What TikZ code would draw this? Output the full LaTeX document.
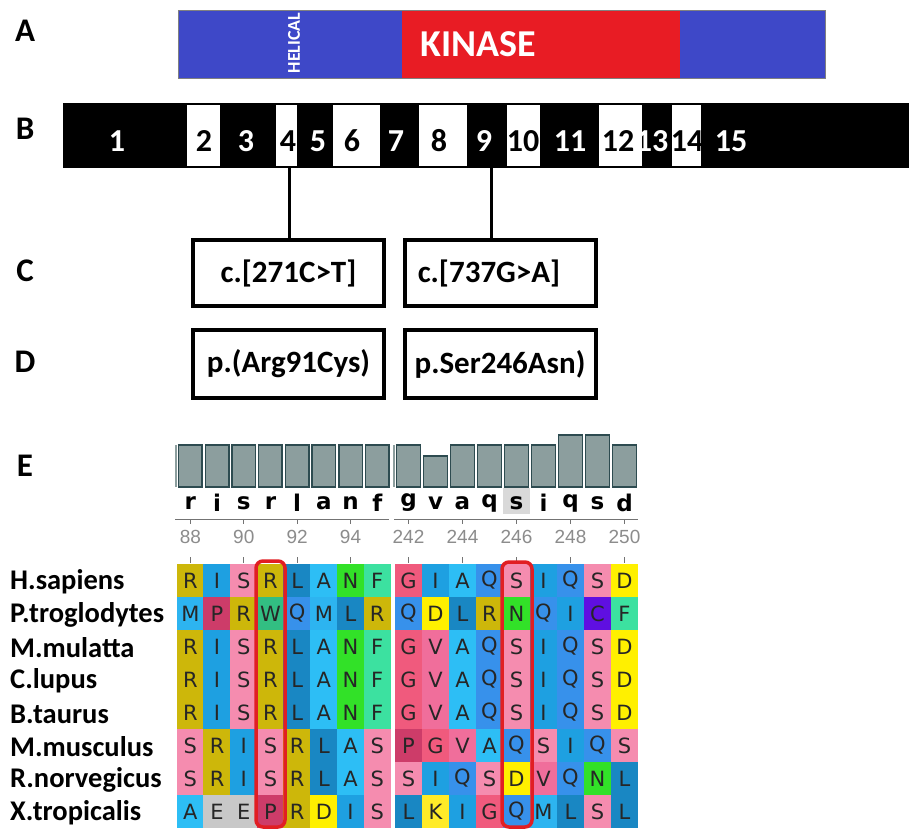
\documentclass[tikz,border=0pt]{standalone}
\usepackage{fontspec}
\setmainfont{Carlito}
\newfontfamily\alnfont{DejaVu Sans}
\newfontfamily\ticfont{Liberation Sans}
\definecolor{domblue}{RGB}{62,72,200}
\definecolor{domred}{RGB}{232,28,36}
\definecolor{aaR}{RGB}{205,183,10}
\definecolor{aaI}{RGB}{30,160,225}
\definecolor{aaS}{RGB}{245,140,175}
\definecolor{aaL}{RGB}{25,135,195}
\definecolor{aaA}{RGB}{45,190,245}
\definecolor{aaN}{RGB}{50,225,40}
\definecolor{aaF}{RGB}{60,225,160}
\definecolor{aaM}{RGB}{45,180,240}
\definecolor{aaP}{RGB}{205,60,105}
\definecolor{aaW}{RGB}{50,190,130}
\definecolor{aaQ}{RGB}{55,145,235}
\definecolor{aaG}{RGB}{240,90,125}
\definecolor{aaD}{RGB}{255,240,0}
\definecolor{aaV}{RGB}{240,110,155}
\definecolor{aaC}{RGB}{95,15,225}
\definecolor{aaK}{RGB}{255,235,40}
\definecolor{aaE}{RGB}{200,200,200}
\definecolor{barfill}{RGB}{140,158,158}
\definecolor{baredge}{RGB}{45,75,80}
\definecolor{redmark}{RGB}{225,30,35}
\tikzset{
  panel/.style={font=\bfseries\fontsize{33}{33}\selectfont, inner sep=0},
  exnum/.style={font=\bfseries\fontsize{32}{32}\selectfont, inner sep=0},
  mutbox/.style={draw, line width=4pt, minimum width=191pt, minimum height=66pt, inner sep=0, font=\bfseries\fontsize{31}{31}\selectfont},
  species/.style={anchor=west, inner sep=0, font=\bfseries\fontsize{28.5}{28.5}\selectfont},
  cell/.style={minimum width=27.4pt, minimum height=33.6pt, inner sep=0, text=black!85, font=\alnfont\fontsize{21}{21}\selectfont},
  toplet/.style={inner sep=0, font=\alnfont\bfseries\fontsize{23}{23}\selectfont},
  ticlab/.style={inner sep=0, text=black!45, font=\ticfont\fontsize{19}{19}\selectfont},
  histbar/.style={fill=barfill, draw=baredge, line width=1.5pt},
  redbox/.style={draw=redmark, line width=3.5pt, rounded corners=7pt},
  axisline/.style={draw=black!55, line width=1pt},
}
\begin{document}
\begin{tikzpicture}[x=1pt,y=-1pt]
\useasboundingbox (0,0) rectangle (909,829);
\fill[white] (0,0) rectangle (909,829);
% ---- panel labels
\node[panel] (lA) at (25,31) {A};
\node[panel] (lB) at (25,129) {B};
\node[panel] (lC) at (25,271) {C};
\node[panel] (lD) at (25,362) {D};
\node[panel] (lE) at (25,466) {E};
% ---- A: protein domains
\fill[domblue] (178,10) rectangle (825,78);
\fill[domred] (402,10) rectangle (680,78);
\draw[black!50, line width=0.8pt] (178,10) rectangle (825,78);
\node[text=white, inner sep=0, font=\bfseries\fontsize{38}{38}\selectfont] (kin) at (478,44) {KINASE};
\node[text=white, inner sep=0, rotate=90, font=\bfseries\fontsize{18}{18}\selectfont] (hel) at (294,43) {HELICAL};
% ---- B: exons
\fill[black] (63,103) rectangle (909,168);
\foreach \a/\b in {187/220,276/297,333/380,419/467,507/540,599/642,672/701}
  \fill[white] (\a,105) rectangle (\b,166);
\foreach \n/\x/\c in {1/117/white,2/204/black,3/246/white,4/288/black,5/318/white,6/352/black,7/396/white,8/439/black,9/484/white,10/523/black,11/570/white,12/618/black,13/652/white,14/687/black,15/731/white}
  \node[exnum, text=\c] (n\n) at (\x,141) {\n};
\coordinate (ex4) at (289,168);
\coordinate (ex9) at (491,168);
% ---- C, D: mutation boxes
\node[mutbox] (c1) at (288.5,273) {c.[271C>T]};
\node[mutbox] (c2) at (500,273) {c.[737G>A]\hspace*{22pt}};
\node[mutbox, minimum height=68pt] (d1) at (288.5,364) {p.(Arg91Cys)};
\node[mutbox, minimum height=68pt] (d2) at (500,364) {p.Ser246Asn)};
\draw[line width=3pt] (ex4) -- (ex4 |- c1.north);
\draw[line width=3pt] (ex9) -- (ex9 |- c2.north);
% ---- E: conservation histogram
\fill[barfill] (174.5,445) rectangle (176.5,487);
\fill[barfill] (393,445) rectangle (395,487);
\foreach \h [count=\i from 0] in {445,445,445,445,445,445,445,445}
  \draw[histbar] ({177+26.7*\i+1.6},\h) rectangle ({177+26.7*(\i+1)-1.6},487);
\foreach \h [count=\i from 0] in {445,456,445,445,445,445,435,435,445}
  \draw[histbar] ({395+27*\i+1.6},\h) rectangle ({395+27*(\i+1)-1.6},487);
\fill[black!15] (503,488) rectangle (530,514);
\foreach \l [count=\i from 0] in {r,i,s,r,l,a,n,f}
  \node[toplet] (tl\i) at ({177+26.7*(\i+0.5)},503) {\l};
\foreach \l [count=\i from 0] in {g,v,a,q,s,i,q,s,d}
  \node[toplet] (tr\i) at ({395+27*(\i+0.5)},503) {\l};
\draw[axisline] (175,519) -- (389,519);
\draw[axisline] (394,519) -- (638,519);
\foreach \i/\t in {0/88,2/90,4/92,6/94} {
  \draw[axisline] ({177+26.7*(\i+0.5)},519) -- ++(0,5);
  \draw[axisline] ({177+26.7*(\i+0.5)},557) -- ++(0,6);
  \node[ticlab] (tkl\t) at ({177+26.7*(\i+0.5)},537) {\t};
}
\foreach \i/\t in {0/242,2/244,4/246,6/248,8/250} {
  \draw[axisline] ({395+27*(\i+0.5)},519) -- ++(0,5);
  \draw[axisline] ({395+27*(\i+0.5)},557) -- ++(0,6);
  \node[ticlab] (tkr\t) at ({395+27*(\i+0.5)},537) {\t};
}
% ---- alignment
\foreach \sp/\lft/\rgt [count=\r from 0] in {
  H.sapiens/{R,I,S,R,L,A,N,F}/{G,I,A,Q,S,I,Q,S,D},
  P.troglodytes/{M,P,R,W,Q,M,L,R}/{Q,D,L,R,N,Q,I,C,F},
  M.mulatta/{R,I,S,R,L,A,N,F}/{G,V,A,Q,S,I,Q,S,D},
  C.lupus/{R,I,S,R,L,A,N,F}/{G,V,A,Q,S,I,Q,S,D},
  B.taurus/{R,I,S,R,L,A,N,F}/{G,V,A,Q,S,I,Q,S,D},
  M.musculus/{S,R,I,S,R,L,A,S}/{P,G,V,A,Q,S,I,Q,S},
  R.norvegicus/{S,R,I,S,R,L,A,S}/{S,I,Q,S,D,V,Q,N,L},
  X.tropicalis/{A,E,E,P,R,D,I,S}/{L,K,I,G,Q,M,L,S,L}} {
  \node[species] (sp\r) at (10,{582+33*\r}) {\sp};
  \foreach \l [count=\i from 0] in \lft
    \node[cell, fill=aa\l] (L\r-\i) at ({177+26.7*(\i+0.5)},{580.5+33*\r}) {\l};
  \foreach \l [count=\i from 0] in \rgt
    \node[cell, fill=aa\l] (R\r-\i) at ({395+27*(\i+0.5)},{580.5+33*\r}) {\l};
}
\fill[white] (391,563) rectangle (394.5,829);
\draw[redbox] (256,561) rectangle (285,827);
\draw[redbox] (502,562) rectangle (532,827);
\end{tikzpicture}
\end{document}
